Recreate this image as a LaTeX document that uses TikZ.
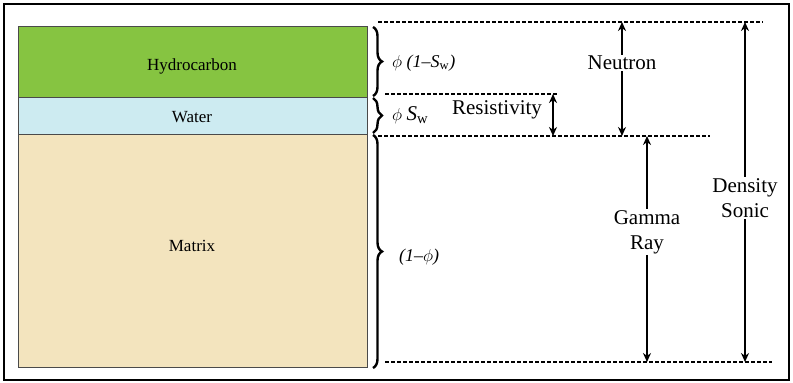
\documentclass[tikz,border=0pt]{standalone}
\usepackage{fontspec}
\setmainfont{Liberation Serif}
\usetikzlibrary{positioning,arrows.meta,decorations.pathreplacing}
\definecolor{hcgreen}{HTML}{86C441}
\definecolor{waterblue}{HTML}{CDEBF1}
\definecolor{matrixtan}{HTML}{F3E4BE}
\definecolor{layeredge}{HTML}{4A4A4A}
\tikzset{
  layer/.style={draw=layeredge, line width=1pt, anchor=north west, inner sep=0pt},
  label/.style={font=\fontsize{17}{20}\selectfont},
  level/.style={dashed, line width=1.2pt, dash pattern=on 4pt off 2pt},
  span/.style={{Stealth[length=9pt,width=8pt]}-{Stealth[length=9pt,width=8pt]}, line width=2.2pt},
  tipin/.style={{Stealth[length=9pt,width=8pt]}-, line width=2.2pt},
  tipout/.style={-{Stealth[length=9pt,width=8pt]}, line width=2.2pt},
  tool/.style={fill=white, inner sep=1pt, align=center, font=\fontsize{21}{25}\selectfont},
  brace/.style={decorate, decoration={brace, amplitude=9pt}, line width=2.4pt},
  frac/.style={anchor=west, inner sep=0pt, font=\fontsize{18}{20}\selectfont\itshape}
}
\begin{document}
\begin{tikzpicture}[x=1pt, y=-1pt]
  \useasboundingbox (0,0) rectangle (793,383);
  \draw[line width=2pt] (4,4) rectangle (789,380);

  % rock column
  \node[layer, fill=hcgreen, minimum width=349pt, minimum height=71pt] (hc) at (18,26) {};
  \node[layer, fill=waterblue, minimum width=349pt, minimum height=37pt] (water) at (18,97) {};
  \node[layer, fill=matrixtan, minimum width=349pt, minimum height=233pt] (matrix) at (18,134) {};
  \node[label] (hctext) at (192,66) {Hydrocarbon};
  \node[label] (watertext) at (192,117) {Water};
  \node[label] (matrixtext) at (192,246) {Matrix};

  % levels
  \coordinate (top) at (378,22);
  \coordinate (owc) at (385,94);
  \coordinate (mtop) at (378,136);
  \coordinate (base) at (385,362);
  \draw[level] (top) -- (763,22);
  \draw[level] (owc) -- (558,94);
  \draw[level] (mtop) -- (710,136);
  \draw[level] (base) -- (772,362);

  % volume fractions
  \draw[brace] (373,27) -- (373,96);
  \draw[brace] (373,98) -- (373,133);
  \draw[brace] (373,135) -- (373,368);
  \node[frac] (fhc) at (392,63) {$\phi$ (1–S\textsubscript{\upshape w})};
  \node[frac] (fw) at (392,115) {$\phi$ \fontsize{21}{21}\selectfont S\textsubscript{\upshape w}};
  \node[frac] (fm) at (399,257) {(1–$\phi$)};

  % tool responses
  \node[tool] (res) at (497,110) {Resistivity};
  \draw[span] (553,94) -- (553,136);

  \node[tool] (neu) at (622,63) {Neutron};
  \draw[tipin] (622,22) -- (neu.north);
  \draw[tipout] (neu.south) -- (622,136);

  \node[tool] (gr) at (647,232) {Gamma\\Ray};
  \draw[tipin] (647,136) -- (gr.north);
  \draw[tipout] (gr.south) -- (647,362);

  \node[tool] (ds) at (745,198) {Density\\Sonic};
  \draw[tipin] (745,22) -- (ds.north);
  \draw[tipout] (ds.south) -- (745,362);
\end{tikzpicture}
\end{document}
